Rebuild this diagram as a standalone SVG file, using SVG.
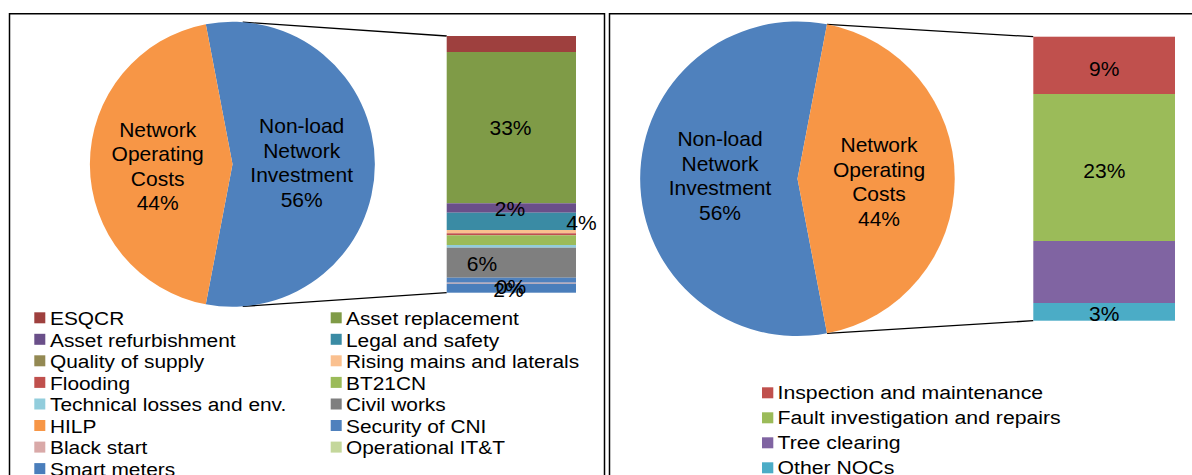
<svg xmlns="http://www.w3.org/2000/svg" width="1192" height="475" viewBox="0 0 1192 475">
<style>
text{font-family:"Liberation Sans",Arial,sans-serif;fill:#000}
.lbl{font-size:21px;text-anchor:middle}
.lg{font-size:18px}
.lg2{font-size:19px}
.frame{fill:none;stroke:#000;stroke-width:1.5}
.conn{fill:none;stroke:#000;stroke-width:1.3}
</style>
<rect width="1192" height="475" fill="#fff"/>
<g id="frames">
<path class="frame" d="M9.5 475V13.7H604.5V475"/>
<path class="frame" d="M609.5 475V13.7H1192"/>
</g>
<g id="connectors">
<line class="conn" x1="242.7" y1="22.2" x2="446.7" y2="36"/>
<line class="conn" x1="242.7" y1="306.4" x2="446.7" y2="292.7"/>
<line class="conn" x1="827" y1="24.3" x2="1033.3" y2="36.7"/>
<line class="conn" x1="827" y1="333.3" x2="1033.3" y2="320.7"/>
</g>
<g id="pie-left">
<path d="M232.5 164.3L205.8 304.3A142.5 142.5 0 1 0 205.8 24.3Z" fill="#4F81BD"/>
<path d="M232.5 164.3L205.8 24.3A142.5 142.5 0 0 0 205.8 304.3Z" fill="#F79646"/>
<text class="lbl" x="301.7" y="133.3">Non-load</text>
<text class="lbl" x="301.7" y="157.7">Network</text>
<text class="lbl" x="301.7" y="182">Investment</text>
<text class="lbl" x="301.7" y="206.5">56%</text>
<text class="lbl" x="157.7" y="136.7">Network</text>
<text class="lbl" x="157.7" y="161.2">Operating</text>
<text class="lbl" x="157.7" y="185.7">Costs</text>
<text class="lbl" x="157.7" y="210.2">44%</text>
</g>
<g id="bar-left">
<rect x="446.7" y="36" width="129.3" height="16" fill="#9E403E"/>
<rect x="446.7" y="52" width="129.3" height="151.3" fill="#7F9B47"/>
<rect x="446.7" y="203.3" width="129.3" height="9.4" fill="#6A4F89"/>
<rect x="446.7" y="212.7" width="129.3" height="17.3" fill="#3A8BA4"/>
<rect x="446.7" y="230" width="129.3" height="3.3" fill="#FAC08F"/>
<rect x="446.7" y="233.3" width="129.3" height="2" fill="#C0504D"/>
<rect x="446.7" y="235.3" width="129.3" height="9.7" fill="#9BBB59"/>
<rect x="446.7" y="245" width="129.3" height="2.7" fill="#92CDDC"/>
<rect x="446.7" y="247.7" width="129.3" height="30" fill="#7F7F7F"/>
<rect x="446.7" y="277.7" width="129.3" height="5" fill="#4F81BD"/>
<rect x="446.7" y="282.7" width="129.3" height="1" fill="#D9A9A8"/>
<rect x="446.7" y="283.7" width="129.3" height="9" fill="#4A7EBB"/>
<text class="lbl" x="510.5" y="135">33%</text>
<text class="lbl" x="510" y="216">2%</text>
<text class="lbl" x="581.5" y="230">4%</text>
<text class="lbl" x="482" y="270.7">6%</text>
<text class="lbl" x="511" y="294">0%</text>
<text class="lbl" x="508.5" y="297">2%</text>
</g>
<g id="legend-left">
<rect x="34.3" y="312.3" width="11" height="11" fill="#9E403E"/><text class="lg" transform="matrix(1.16 0 0 1 50 325)">ESQCR</text>
<rect x="34.3" y="333.8" width="11" height="11" fill="#6A4F89"/><text class="lg" transform="matrix(1.16 0 0 1 50 346.5)">Asset refurbishment</text>
<rect x="34.3" y="355.3" width="11" height="11" fill="#938953"/><text class="lg" transform="matrix(1.16 0 0 1 50 368)">Quality of supply</text>
<rect x="34.3" y="376.9" width="11" height="11" fill="#C0504D"/><text class="lg" transform="matrix(1.16 0 0 1 50 389.6)">Flooding</text>
<rect x="34.3" y="398.5" width="11" height="11" fill="#92CDDC"/><text class="lg" transform="matrix(1.16 0 0 1 50 411.2)">Technical losses and env.</text>
<rect x="34.3" y="420" width="11" height="11" fill="#F79646"/><text class="lg" transform="matrix(1.16 0 0 1 50 432.7)">HILP</text>
<rect x="34.3" y="441.6" width="11" height="11" fill="#D9A9A8"/><text class="lg" transform="matrix(1.16 0 0 1 50 454.3)">Black start</text>
<rect x="34.3" y="463.1" width="11" height="11" fill="#4A7EBB"/><text class="lg" transform="matrix(1.16 0 0 1 50 475.8)">Smart meters</text>
<rect x="330.7" y="312.3" width="11" height="11" fill="#7F9B47"/><text class="lg" transform="matrix(1.16 0 0 1 346 325)">Asset replacement</text>
<rect x="330.7" y="333.8" width="11" height="11" fill="#3A8BA4"/><text class="lg" transform="matrix(1.16 0 0 1 346 346.5)">Legal and safety</text>
<rect x="330.7" y="355.3" width="11" height="11" fill="#FAC08F"/><text class="lg" transform="matrix(1.16 0 0 1 346 368)">Rising mains and laterals</text>
<rect x="330.7" y="376.9" width="11" height="11" fill="#9BBB59"/><text class="lg" transform="matrix(1.16 0 0 1 346 389.6)">BT21CN</text>
<rect x="330.7" y="398.5" width="11" height="11" fill="#7F7F7F"/><text class="lg" transform="matrix(1.16 0 0 1 346 411.2)">Civil works</text>
<rect x="330.7" y="420" width="11" height="11" fill="#4F81BD"/><text class="lg" transform="matrix(1.16 0 0 1 346 432.7)">Security of CNI</text>
<rect x="330.7" y="441.6" width="11" height="11" fill="#C4D79B"/><text class="lg" transform="matrix(1.16 0 0 1 346 454.3)">Operational IT&amp;T</text>
</g>
<g id="pie-right">
<path d="M797.5 178.8L827 333.3A157.3 157.3 0 1 1 827 24.3Z" fill="#4F81BD"/>
<path d="M797.5 178.8L827 24.3A157.3 157.3 0 0 1 827 333.3Z" fill="#F79646"/>
<text class="lbl" x="720" y="146">Non-load</text>
<text class="lbl" x="720" y="170.5">Network</text>
<text class="lbl" x="720" y="195">Investment</text>
<text class="lbl" x="720" y="219.5">56%</text>
<text class="lbl" x="879" y="152.3">Network</text>
<text class="lbl" x="879" y="176.8">Operating</text>
<text class="lbl" x="879" y="201.3">Costs</text>
<text class="lbl" x="879" y="225.5">44%</text>
</g>
<g id="bar-right">
<rect x="1033.3" y="36.7" width="141.7" height="57.3" fill="#C0504D"/>
<rect x="1033.3" y="94" width="141.7" height="147" fill="#9BBB59"/>
<rect x="1033.3" y="241" width="141.7" height="62" fill="#8064A2"/>
<rect x="1033.3" y="303" width="141.7" height="17.7" fill="#4BACC6"/>
<text class="lbl" x="1104.3" y="76">9%</text>
<text class="lbl" x="1104.3" y="177.5">23%</text>
<text class="lbl" x="1104.3" y="320.5">3%</text>
</g>
<g id="legend-right">
<rect x="762" y="387.3" width="11.3" height="11" fill="#C0504D"/><text class="lg2" transform="matrix(1.118 0 0 1 777.5 399.3)">Inspection and maintenance</text>
<rect x="762" y="412.3" width="11.3" height="11" fill="#9BBB59"/><text class="lg2" transform="matrix(1.118 0 0 1 777.5 424.3)">Fault investigation and repairs</text>
<rect x="762" y="437.3" width="11.3" height="11" fill="#8064A2"/><text class="lg2" transform="matrix(1.118 0 0 1 777.5 449.3)">Tree clearing</text>
<rect x="762" y="462.3" width="11.3" height="11" fill="#4BACC6"/><text class="lg2" transform="matrix(1.118 0 0 1 777.5 474.3)">Other NOCs</text>
</g>
</svg>
